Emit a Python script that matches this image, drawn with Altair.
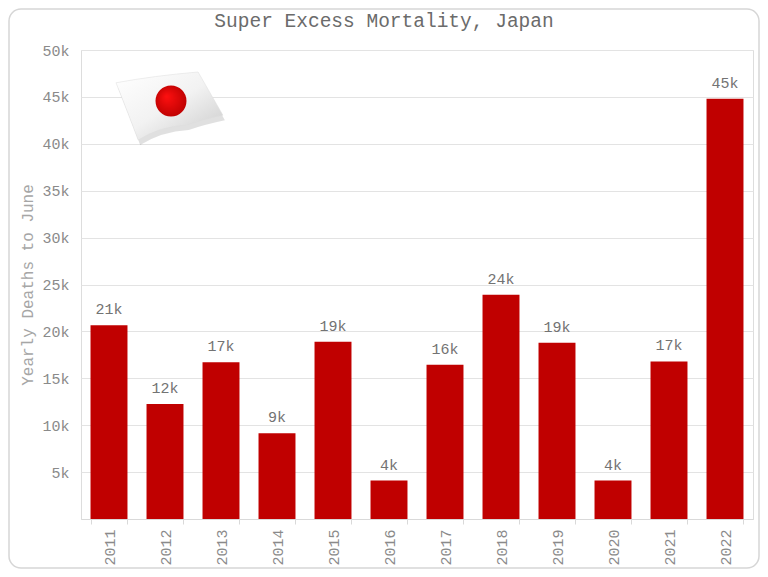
import altair as alt
import pandas as pd

# ---- data ----
years = ["2011", "2012", "2013", "2014", "2015", "2016",
         "2017", "2018", "2019", "2020", "2021", "2022"]
deaths = [20650, 12250, 16700, 9150, 18900, 4100,
          16450, 23900, 18800, 4100, 16800, 44800]
y_ticks = [0, 5000, 10000, 15000, 20000, 25000, 30000, 35000, 40000, 45000, 50000]
title_text = "Super Excess Mortality, Japan"
y_title = "Yearly Deaths to June"

df = pd.DataFrame({"year": years, "deaths": deaths})
one = pd.DataFrame({"a": [0]})
title_df = pd.DataFrame({"t": [title_text]})

FONT = "Liberation Mono"
W, H = 672, 469
PAD = {"left": 73, "top": 42, "right": 7, "bottom": 50}

base = alt.Chart(df).encode(
    x=alt.X(
        "year:N", sort=None, title=None,
        scale=alt.Scale(paddingInner=0.34, paddingOuter=0.17),
        axis=alt.Axis(
            labelAngle=270, labelFontSize=15, labelColor="#8a8a8a", labelFont=FONT,
            tickBand="extent", tickColor="#d9d9d9", tickSize=5, domainColor="#d9d9d9",
            labelPadding=5, grid=False,
        ),
    ),
    y=alt.Y(
        "deaths:Q", title=y_title,
        scale=alt.Scale(domain=[0, 50000], nice=False),
        axis=alt.Axis(
            values=y_ticks,
            labelExpr="datum.value == 0 ? '' : (datum.value / 1000) + 'k'",
            labelFontSize=15, labelColor="#8a8a8a", labelFont=FONT,
            ticks=False, tickSize=0, domain=False, labelPadding=12,
            gridColor="#e3e3e3", gridWidth=1,
            titleFont=FONT, titleFontSize=16, titleColor="#a6a6a6",
            titleFontWeight="normal", titlePadding=6,
        ),
    ),
)

bars = base.mark_bar(color="#C00000")

labels = base.transform_calculate(
    lbl="format(datum.deaths / 1000, '.0f') + 'k'"
).mark_text(
    dy=-11, baseline="alphabetic", fontSize=15, font=FONT, color="#737373"
).encode(text="lbl:N")

title = alt.Chart(title_df).mark_text(
    font=FONT, fontSize=19.5, color="#6b6b6b", align="center", baseline="alphabetic",
).encode(text="t:N", x=alt.value(W / 2 - 33), y=alt.value(-23))

flag_path = ("M -1 -0.43 Q -0.3 -0.56 0.52 -0.63 L 0.98 0.17 "
             "Q 0.6 0.25 0.31 0.35 Q -0.2 0.38 -0.59 0.63 Q -0.75 0.2 -1 -0.43 Z")

flag_shadow = alt.Chart(one).mark_point(
    shape=flag_path, filled=True, fill="#000000", fillOpacity=0.12, strokeOpacity=0,
    size=11664,
).encode(x=alt.value(91), y=alt.value(61))

flag = alt.Chart(one).mark_point(
    shape=flag_path, filled=True, size=11664, opacity=1,
    fill=alt.Gradient(
        gradient="linear", x1=0, y1=0, x2=1, y2=1,
        stops=[alt.GradientStop(color="#ffffff", offset=0),
               alt.GradientStop(color="#f2f2f2", offset=0.5),
               alt.GradientStop(color="#c9c9c9", offset=1)],
    ),
    stroke="#dddddd", strokeWidth=0.5,
).encode(x=alt.value(89), y=alt.value(56))

sun = alt.Chart(one).mark_point(
    shape="circle", filled=True, size=960, opacity=1,
    fill=alt.Gradient(
        gradient="radial", x1=0.35, y1=0.35, r1=0, x2=0.5, y2=0.5, r2=0.6,
        stops=[alt.GradientStop(color="#ff1010", offset=0),
               alt.GradientStop(color="#b80000", offset=1)],
    ),
).encode(x=alt.value(90), y=alt.value(51))

border = alt.Chart(one).mark_rect(
    fillOpacity=0, stroke="#d6d6d6", strokeWidth=1.5, cornerRadius=12,
).encode(
    x=alt.value(-PAD["left"] + 1), x2=alt.value(W + PAD["right"] - 1),
    y=alt.value(-PAD["top"] + 1), y2=alt.value(H + PAD["bottom"] - 1),
)

chart = alt.layer(bars, labels, title, flag_shadow, flag, sun, border).properties(
    width=W, height=H,
    padding=PAD,
    autosize=alt.AutoSizeParams(type="none"),
).configure_view(stroke=None).configure(background="white")

chart.save("out.html", embed_options={"renderer": "svg", "actions": False})
